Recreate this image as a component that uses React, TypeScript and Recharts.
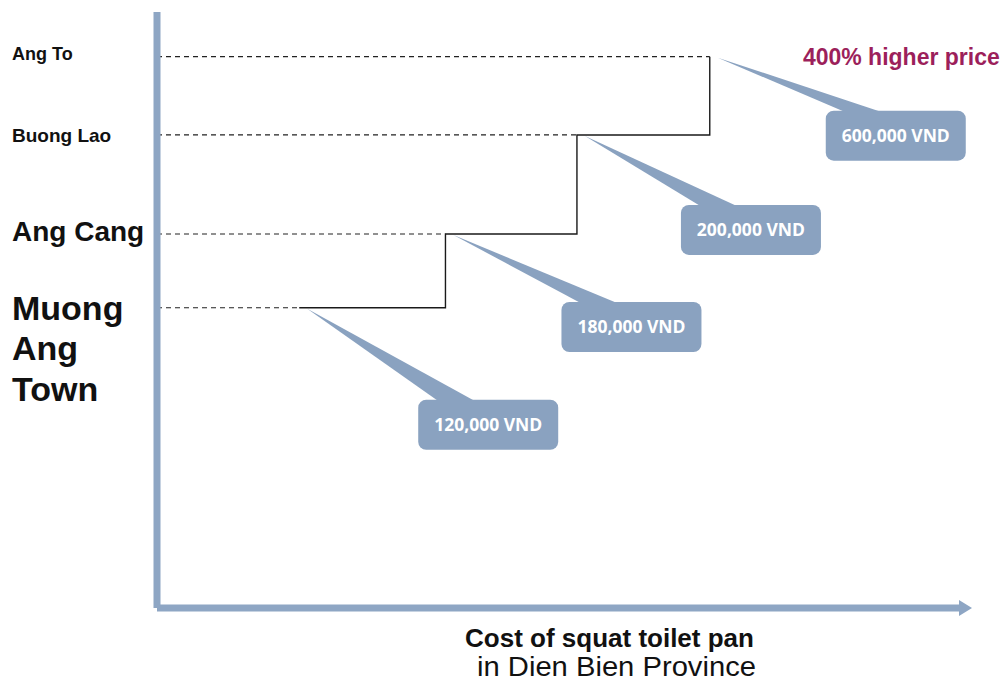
import { ComposedChart, Line, XAxis, YAxis, ReferenceLine, ReferenceDot } from 'recharts';

// places from the lowest step to the highest
const places = ['Muong Ang Town', 'Ang Cang', 'Buong Lao', 'Ang To'];
const prices = ['120,000 VND', '180,000 VND', '200,000 VND', '600,000 VND'];
// schematic position of each step along the cost axis (0–6) and its height (0–8)
const stepPos = [1.06, 2.15, 3.13, 4.12];
const levels = [4.03, 5.02, 6.35, 7.4];
const note = '400% higher price';
const xTitle = ['Cost of squat toilet pan', 'in Dien Bien Province'];

const data = places.map((p, i) => ({ place: p, x: stepPos[i], level: levels[i], price: prices[i] }));

const AXIS = '#8ea6c4';
const BOX = '#8aa2c0';
const FONT = '"Liberation Sans", Arial, sans-serif';

const TICK_STYLE = [
  { size: 34, wrap: true, dy: 12 },
  { size: 28, wrap: false, dy: 7 },
  { size: 19, wrap: false, dy: 7 },
  { size: 18, wrap: false, dy: 3 },
];

function PlaceTick(props: any) {
  const { y, payload } = props;
  const i = levels.indexOf(payload.value);
  if (i < 0) return null;
  const s = TICK_STYLE[i];
  const lines = s.wrap ? places[i].split(' ') : [places[i]];
  return (
    <text x={12} y={y + s.dy} fontSize={s.size} fontWeight="bold" fill="#111" fontFamily={FONT}>
      {lines.map((l, k) => (
        <tspan key={k} x={12} dy={k ? 40.5 : 0}>{l}</tspan>
      ))}
    </text>
  );
}

// box offset from the step corner it points at
const CALLOUT = [
  { dx: 119, dy: 92 },
  { dx: 116, dy: 68 },
  { dx: 104, dy: 70 },
  { dx: 116, dy: 54 },
];
const BOX_W = 140;
const BOX_H = 50;

function Callout({ cx, cy, i }: { cx: number; cy: number; i: number }) {
  const o = CALLOUT[i];
  const bx = cx + o.dx;
  const by = cy + o.dy;
  const tx = cx + 8;
  const ty = cy + 1;
  return (
    <g>
      <polygon points={`${tx},${ty} ${bx + 21},${by + 2} ${bx + 58},${by + 2}`} fill={BOX} />
      <rect x={bx} y={by} width={BOX_W} height={BOX_H} rx={8} fill={BOX} />
      <text x={bx + BOX_W / 2} y={by + BOX_H / 2 + 6} textAnchor="middle" fill="#fff"
        fontSize={17.5} fontWeight={700} fontFamily='"Open Sans", sans-serif'>
        {prices[i]}
      </text>
      {i === places.length - 1 && (
        <text x={bx + 174} y={cy + 8} textAnchor="end" fill="#9c1f5b" fontSize={23}
          fontWeight="bold" fontFamily={FONT}>
          {note}
        </text>
      )}
    </g>
  );
}

function AxisTitle(props: any) {
  const { x, y, width } = props.viewBox;
  const mid = x + width / 2;
  return (
    <g fontFamily={FONT} fill="#111">
      <text x={mid + 50} y={y + 39} textAnchor="middle" fontWeight="bold" fontSize={26}>{xTitle[0]}</text>
      <text x={mid + 57} y={y + 68} textAnchor="middle" fontSize={27} textLength={279}
        lengthAdjust="spacingAndGlyphs">{xTitle[1]}</text>
    </g>
  );
}

export default function App() {
  return (
    <div style={{ position: 'absolute', left: 0, top: 0, background: '#fff' }}>
      <ComposedChart width={1002} height={681} data={data} margin={{ top: 12, right: 40, bottom: 0, left: 0 }}>
        <XAxis type="number" dataKey="x" domain={[0, 6]} tick={false} tickLine={false} height={73}
          axisLine={{ stroke: AXIS, strokeWidth: 7 }} label={<AxisTitle />} />
        <YAxis type="number" domain={[0, 8]} ticks={levels} interval={0} width={157} tickLine={false}
          axisLine={{ stroke: AXIS, strokeWidth: 7 }} tick={(p: any) => <PlaceTick {...p} />} />
        {places.map((p, i) => (
          <ReferenceLine key={p} segment={[{ x: 0, y: levels[i] }, { x: stepPos[i], y: levels[i] }]}
            stroke="#222" strokeDasharray="5 4" strokeWidth={1.2} />
        ))}
        <Line type="stepAfter" dataKey="level" stroke="#1a1a1a" strokeWidth={1.4} dot={false}
          isAnimationActive={false} />
        {places.map((p, i) => (
          <ReferenceDot key={p} x={stepPos[i]} y={levels[i]} ifOverflow="visible"
            shape={(s: any) => <Callout cx={s.cx} cy={s.cy} i={i} />} />
        ))}
        <ReferenceDot x={6} y={0} ifOverflow="visible"
          shape={(s: any) => (
            <polygon points={`${s.cx - 3},${s.cy - 8} ${s.cx + 10},${s.cy} ${s.cx - 3},${s.cy + 8}`} fill={AXIS} />
          )} />
      </ComposedChart>
    </div>
  );
}
